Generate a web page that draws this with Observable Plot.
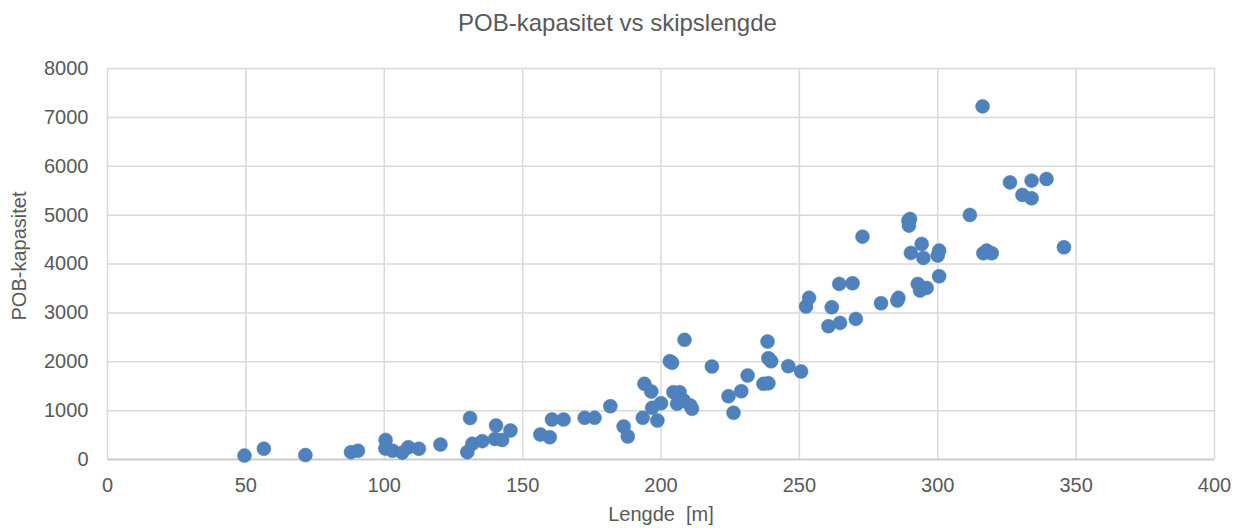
<!DOCTYPE html>
<html>
<head>
<meta charset="utf-8">
<script src="https://cdn.jsdelivr.net/npm/d3@7"></script>
<script src="https://cdn.jsdelivr.net/npm/@observablehq/plot@0.6"></script>
<style>
  html, body { margin: 0; padding: 0; background: #fff; }
  #wrap { width: 1235px; height: 528px; font-family: "Liberation Sans", Arial, sans-serif; }
  #title { height: 44px; line-height: 44px; padding-top: 1px; text-align: center; font-size: 24px; color: #595959; }
</style>
</head>
<body>
<div id="wrap">
  <div id="title"></div>
  <div id="chart"></div>
</div>
<script>
// Chart texts
const chartTitle = "POB-kapasitet vs skipslengde";
const xTitle = "Lengde  [m]";
const yTitle = "POB-kapasitet";

// Tick values for both axes
const xTicks = [0, 50, 100, 150, 200, 250, 300, 350, 400];
const yTicks = [0, 1000, 2000, 3000, 4000, 5000, 6000, 7000, 8000];

// Ship length (m)
const lengde = [
  49.5, 56.5, 71.5, 88, 90.5, 100.5, 100.4, 103, 106.5, 108.7,
  112.5, 120.3, 131, 130, 131.8, 135.4, 140.4, 140, 142.6, 145.6,
  156.4, 159.8, 160.6, 164.8, 172.4, 176, 181.7, 186.5, 188, 193.4,
  194, 196.5, 196.8, 200, 198.7, 203.2, 204, 208.5, 204.5, 206.7,
  205.8, 208.2, 210.6, 211.2, 218.4, 224.4, 226.2, 229, 231.3, 237,
  238.8, 238.5, 238.8, 239.8, 246, 250.6, 252.4, 253.5, 261.7, 260.5,
  264.7, 264.4, 269.2, 270.4, 272.8, 279.5, 285.8, 285.4, 289.4, 290,
  289.6, 290.3, 294.2, 294.8, 292.8, 296, 293.6, 300.5, 300, 300.5,
  311.6, 316.2, 316.5, 317.7, 319.5, 326.1, 330.6, 333.9, 333.9, 339.3,
  345.6
];

// Persons on board capacity
const pob = [
  80, 220, 90, 150, 180, 400, 225, 180, 140, 250,
  220, 306, 850, 150, 320, 375, 695, 420, 400, 593,
  511, 456, 818, 818, 852, 852, 1090, 675, 470, 852,
  1548, 1390, 1057, 1151, 797, 2010, 1980, 2448, 1377, 1377,
  1139, 1207, 1104, 1037, 1902, 1295, 955, 1397, 1718, 1548,
  1560, 2413, 2072, 2010, 1908, 1800, 3129, 3307, 3115, 2726,
  2795, 3593, 3605, 2877, 4560, 3197, 3307, 3252, 4888, 4922,
  4785, 4227, 4410, 4125, 3593, 3511, 3456, 4274, 4172, 3748,
  5004, 7225, 4219, 4274, 4219, 5670, 5413, 5705, 5344, 5740,
  4342
];

const ships = lengde.map((x, i) => ({x, y: pob[i]}));

document.getElementById("title").textContent = chartTitle;

const textColor = "#595959";
const gridColor = "#d9d9d9";

const chart = Plot.plot({
  width: 1235,
  height: 483,
  marginTop: 23,
  marginBottom: 69,
  marginLeft: 107,
  marginRight: 21,
  style: {fontFamily: "'Liberation Sans', Arial, sans-serif", fontSize: "20px", color: textColor, background: "#fff"},
  x: {domain: [0, 400], ticks: xTicks},
  y: {domain: [0, 8000], ticks: yTicks},
  marks: [
    Plot.gridX(xTicks, {stroke: gridColor, strokeOpacity: 1, strokeWidth: 1.5}),
    Plot.gridY(yTicks, {stroke: gridColor, strokeOpacity: 1, strokeWidth: 1.5}),
    Plot.ruleY([0], {stroke: "#c6c6c6", strokeWidth: 1.5}),
    Plot.axisX(xTicks, {tickSize: 0, tickPadding: 18, label: null, fill: textColor, fontSize: 20}),
    Plot.axisY(yTicks, {tickSize: 0, tickPadding: 19, label: null, fill: textColor, fontSize: 20, tickFormat: d => String(d)}),
    Plot.dot(ships, {x: "x", y: "y", r: 7, fill: "#4f81bd", stroke: "#4a7cb9", strokeWidth: 0.5}),
    Plot.text([xTitle], {frameAnchor: "bottom", dy: 55, lineAnchor: "middle", fill: textColor, fontSize: 20}),
    Plot.text([yTitle], {frameAnchor: "left", dx: -88, dy: -8, rotate: -90, textAnchor: "middle", lineAnchor: "middle", fill: textColor, fontSize: 20})
  ]
});

document.getElementById("chart").appendChild(chart);
</script>
</body>
</html>
